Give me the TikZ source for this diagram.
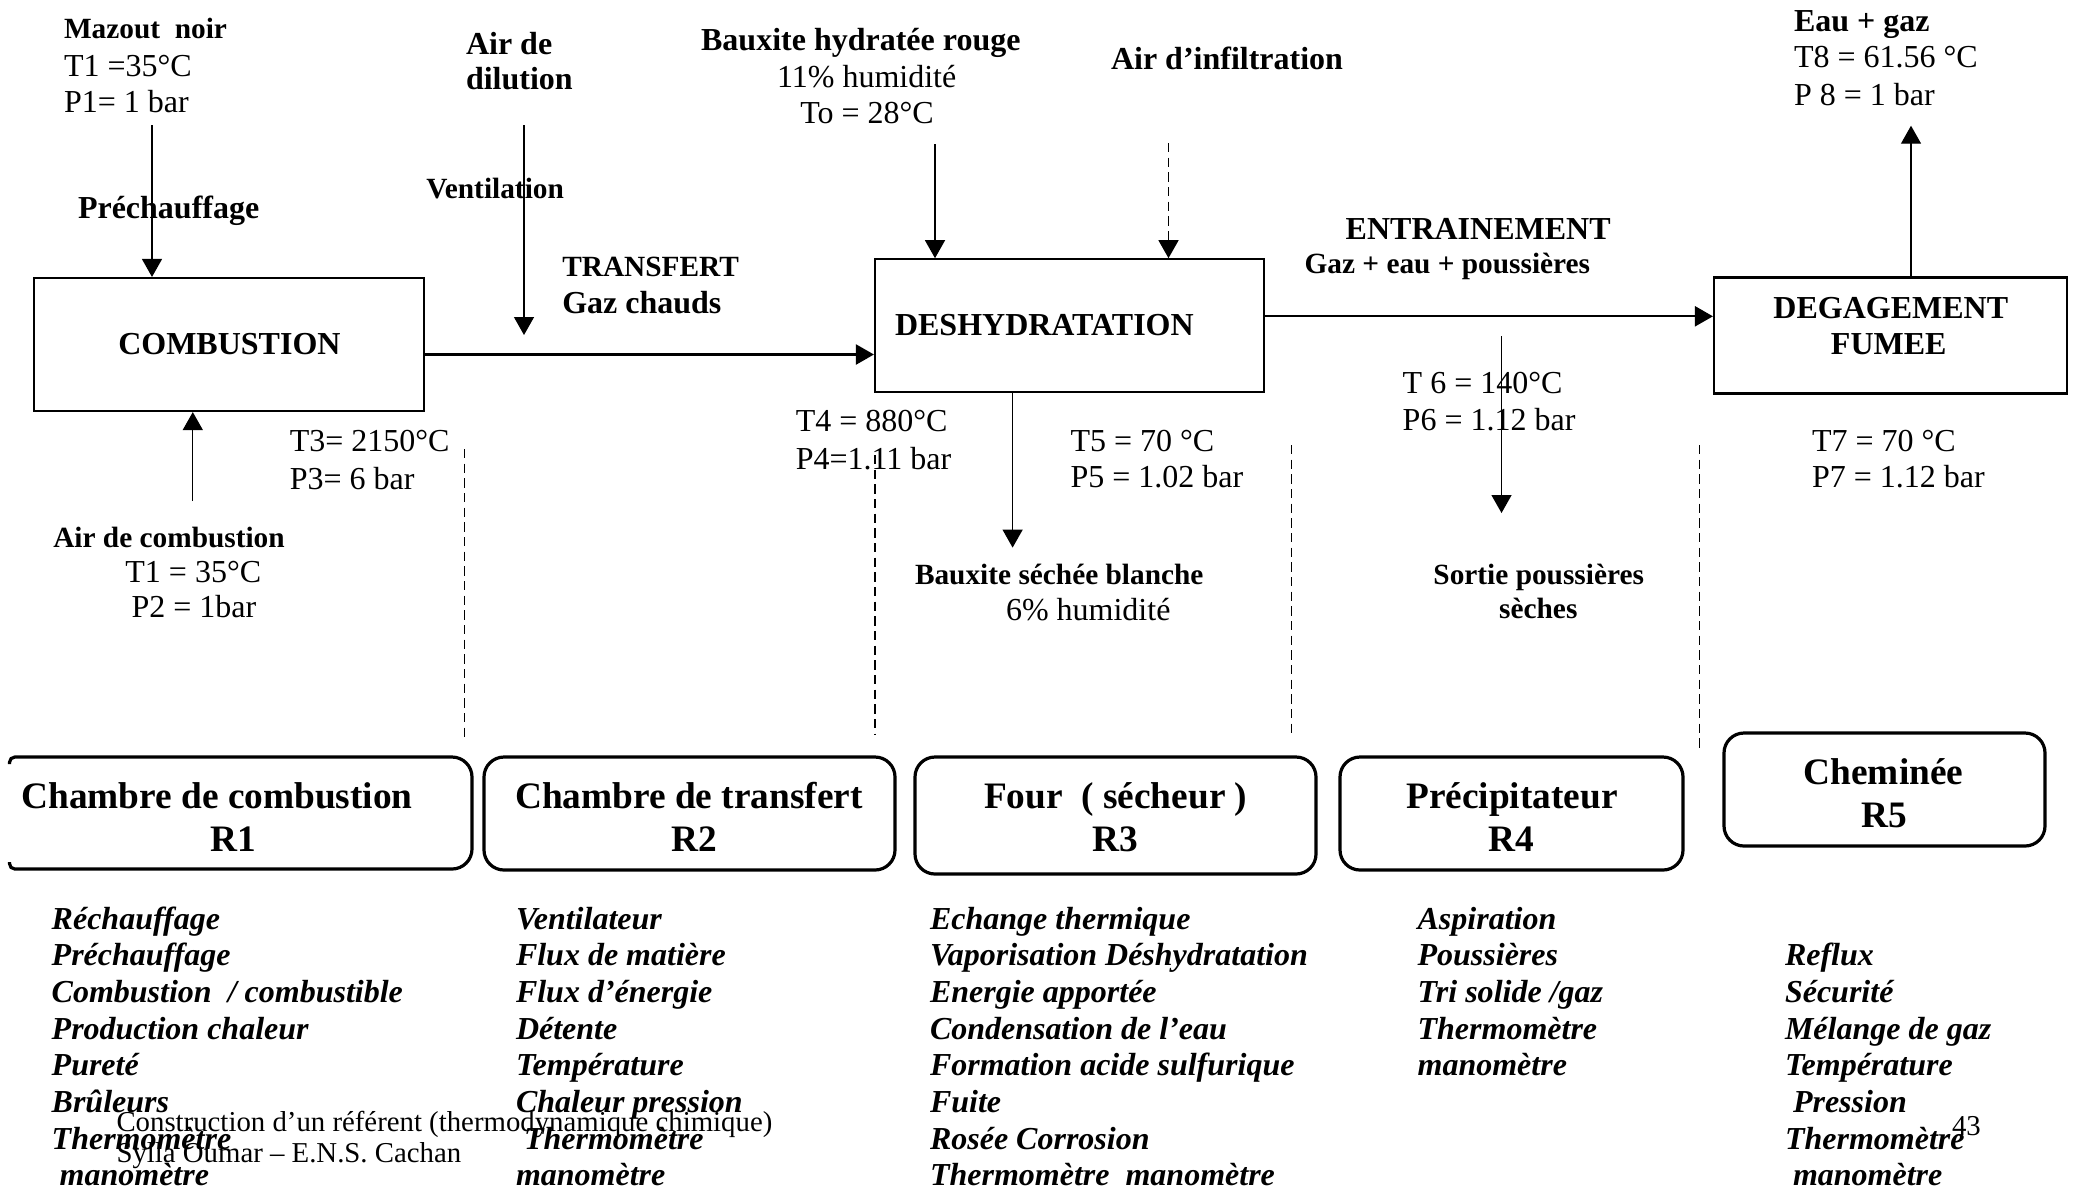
\documentclass[tikz,border=0pt]{standalone}
\usepackage{fontspec}
\setmainfont{Liberation Serif}
\usetikzlibrary{arrows.meta}
\newlength\pxu
\setlength\pxu{0.375pt}
\begin{document}
\begin{tikzpicture}[x=0.375pt,y=-0.375pt,
  txt/.style={inner sep=0pt, outer sep=0pt},
  lw/.style={txt, anchor=base west},
  cw/.style={txt, anchor=base},
  tRg/.style={font=\fontsize{12}{13.8}\selectfont},
  tBd/.style={font=\fontsize{12}{13.8}\selectfont\bfseries},
  tBs/.style={font=\fontsize{11}{12.6}\selectfont\bfseries},
  tBi/.style={font=\fontsize{12}{13.8}\selectfont\bfseries\itshape},
  tTi/.style={font=\fontsize{14}{16}\selectfont\bfseries},
  tFt/.style={font=\fontsize{10.8}{12.4}\selectfont},
  arr/.style={-{Triangle[length=6.75pt,width=7.5pt]}, line width=0.5pt},
  harr/.style={arr, line width=0.8pt},
  dsh/.style={line width=0.55pt, dash pattern=on 3.5pt off 2pt},
  blk/.style={draw, line width=0.8pt, inner sep=0pt},
  rbox/.style={draw, line width=1.2pt, rounded corners=7.5pt, inner sep=0pt},
  li/.style={lw, tBi}
]
\useasboundingbox (0,0) rectangle (2076,1191);

% ---------- process blocks ----------
\node[blk, tBd, minimum width=390\pxu, minimum height=133\pxu] (comb) at (229.4,344.5) {COMBUSTION};
\node[blk, minimum width=389\pxu, minimum height=132.5\pxu] (desh) at (1069.5,325.5) {};
\node[lw, tBd] (deshtxt) at (895,335) {DESHYDRATATION};
\node[blk, minimum width=353\pxu, minimum height=116\pxu] (deg) at (1890.5,335.5) {};
\node[cw, tBd] (deg1) at (1890.8,318.4) {DEGAGEMENT};
\node[cw, tBd] (deg2) at (1888.7,354) {FUMEE};

% ---------- combustion inputs ----------
\node[lw, tBs] (mz1) at (64,38.5) {Mazout\ \ noir};
\node[lw, tRg] (mz2) at (64,76) {T1 =35°C};
\node[lw, tRg] (mz3) at (64,112.7) {P1= 1 bar};
\node[lw, tBd] (prech) at (78,218) {Préchauffage};
\coordinate (mzs) at (152,125);
\draw[arr] (mzs) -- (mzs |- comb.north);

\node[cw, tBs] (ac1) at (169,547.3) {Air de combustion};
\node[cw, tRg] (ac2) at (193.3,582) {T1 = 35°C};
\node[cw, tRg] (ac3) at (194,617.5) {P2 = 1bar};
\coordinate (acs) at (192.8,501);
\draw[arr] (acs) -- (acs |- comb.south);

\node[lw, tRg] (t3) at (289.8,451.5) {T3= 2150°C};
\node[lw, tRg] (p3) at (289.8,489) {P3= 6 bar};

% ---------- transfer ----------
\node[lw, tBd] (dil1) at (466,54) {Air de};
\node[lw, tBd] (dil2) at (466,89.5) {dilution};
\node[lw, tBs] (vent) at (426.4,198.5) {Ventilation};
\coordinate (dils) at (524,125);
\coordinate (dile) at (524,335);
\draw[arr] (dils) -- (dile);
\node[lw, tBs] (tr1) at (562.3,276.5) {TRANSFERT};
\node[lw, tBd] (tr2) at (562.3,313) {Gaz chauds};
\coordinate (h1) at (0,354.5);
\draw[harr] (comb.east |- h1) -- (desh.west |- h1);

% ---------- dehydration ----------
\node[cw, tBd] (bx1) at (860.8,50) {Bauxite hydratée rouge};
\node[cw, tRg] (bx2) at (866.7,87.5) {11\% humidité};
\node[cw, tRg] (bx3) at (867,123.2) {To = 28°C};
\coordinate (bxs) at (935,144);
\draw[arr] (bxs) -- (bxs |- desh.north);
\node[lw, tBd] (infl) at (1111,69) {Air d’infiltration};
\coordinate (ins) at (1168.5,143);
\draw[arr, dsh] (ins) -- (ins |- desh.north);

\node[lw, tRg] (t4) at (795.8,431.5) {T4 = 880°C};
\node[lw, tRg] (p4) at (795.8,469.2) {P4=1.11 bar};
\coordinate (bse) at (1012.6,547.6);
\draw[arr] (bse |- desh.south) -- (bse);
\node[lw, tBs] (bs1) at (915,584.5) {Bauxite séchée blanche};
\node[lw, tRg] (bs2) at (1006,620.5) {6\% humidité};
\node[lw, tRg] (t5) at (1070.5,451.5) {T5 = 70 °C};
\node[lw, tRg] (p5) at (1070.5,487) {P5 = 1.02 bar};

% ---------- entrainement ----------
\coordinate (h2) at (0,316.3);
\draw[harr] (desh.east |- h2) -- (deg.west |- h2);
\node[lw, tBd] (ent1) at (1345.7,239.3) {ENTRAINEMENT};
\node[lw, tBs] (ent2) at (1304.6,273.5) {Gaz + eau + poussières};
\coordinate (ens) at (1501.5,336);
\coordinate (ene) at (1501.5,513);
\draw[arr] (ens) -- (ene);
\node[lw, tRg] (t6) at (1402.7,393.3) {T 6 = 140°C};
\node[lw, tRg] (p6) at (1402.7,430.5) {P6 = 1.12 bar};
\node[cw, tBs] (sp1) at (1538.7,584.8) {Sortie poussières};
\node[cw, tBs] (sp2) at (1538.3,618.5) {sèches};

% ---------- fumes ----------
\node[lw, tBd] (eg1) at (1794,31) {Eau + gaz};
\node[lw, tRg] (eg2) at (1794,67.8) {T8 = 61.56 °C};
\node[lw, tRg] (eg3) at (1794,105.5) {P 8 = 1 bar};
\coordinate (ege) at (1911,125.7);
\draw[arr] (ege |- deg.north) -- (ege);
\node[lw, tRg] (t7) at (1812,451.5) {T7 = 70 °C};
\node[lw, tRg] (p7) at (1812,487) {P7 = 1.12 bar};

% ---------- dashed separators ----------
\coordinate (d1a) at (464.5,449);  \coordinate (d1b) at (464.5,739);
\coordinate (d2a) at (875,455);    \coordinate (d2b) at (875,735);
\coordinate (d3a) at (1291.5,445); \coordinate (d3b) at (1291.5,735);
\coordinate (d4a) at (1699.5,445); \coordinate (d4b) at (1699.5,749);
\draw[dsh] (d1a) -- (d1b);
\draw[dsh] (d2a) -- (d2b);
\draw[dsh] (d3a) -- (d3b);
\draw[dsh] (d4a) -- (d4b);

% ---------- reactor boxes ----------
\draw[line width=1.2pt] (9.5,764) [rounded corners=2pt] -- (9.5,757) [rounded corners=7.5pt] -- (472,757) -- (472,869) [rounded corners=2pt] -- (9.5,869) [sharp corners] -- (9.5,862);
\node[rbox, minimum width=411\pxu, minimum height=113\pxu] (r2) at (689.5,813.5) {};
\node[rbox, minimum width=401\pxu, minimum height=117\pxu] (r3) at (1115.5,815.5) {};
\node[rbox, minimum width=343\pxu, minimum height=113\pxu] (r4) at (1511.5,813.5) {};
\node[rbox, minimum width=321\pxu, minimum height=113\pxu] (r5) at (1884.5,789.5) {};

\node[cw, tTi] (r1t) at (217,808.5) {Chambre de combustion};
\node[cw, tTi] (r1n) at (233,851.5) {R1};
\node[cw, tTi] (r2t) at (689,808.5) {Chambre de transfert};
\node[cw, tTi] (r2n) at (694,851.5) {R2};
\node[cw, tTi] (r3t) at (1115.7,808.5) {Four\ \ ( sécheur )};
\node[cw, tTi] (r3n) at (1115,851.5) {R3};
\node[cw, tTi] (r4t) at (1512,808.5) {Précipitateur};
\node[cw, tTi] (r4n) at (1511.6,851.5) {R4};
\node[cw, tTi] (r5t) at (1883.5,784) {Cheminée};
\node[cw, tTi] (r5n) at (1884.6,827) {R5};

% ---------- lists ----------
\foreach \t [count=\i] in {Réchauffage, Préchauffage, Combustion\ \ / combustible, Production chaleur, Pureté, Brûleurs, Thermomètre, \hspace*{3pt}manomètre}
  \node[li] (ca\i) at (51.7,{929+36.7*(\i-1)}) {\t};
\foreach \t [count=\i] in {Ventilateur, Flux de matière, Flux d’énergie, Détente, Température, Chaleur pression, \hspace*{3pt}Thermomètre, manomètre}
  \node[li] (cb\i) at (516,{929+36.7*(\i-1)}) {\t};
\foreach \t [count=\i] in {Echange thermique, Vaporisation Déshydratation, Energie apportée, Condensation de l’eau, Formation acide sulfurique, Fuite, Rosée Corrosion, Thermomètre\ \ manomètre}
  \node[li] (cc\i) at (930,{929+36.7*(\i-1)}) {\t};
\foreach \t [count=\i] in {Aspiration, Poussières, Tri solide /gaz, Thermomètre, manomètre}
  \node[li] (cd\i) at (1417.6,{929+36.7*(\i-1)}) {\t};
\foreach \t [count=\i] in {Reflux, Sécurité, Mélange de gaz, Température, \hspace*{3pt}Pression, Thermomètre, \hspace*{3pt}manomètre}
  \node[li] (ce\i) at (1785,{929+36.7*\i}) {\t};

% ---------- footer ----------
\node[lw, tFt] (ft1) at (116.5,1131) {Construction d’un référent (thermodynamique chimique)};
\node[lw, tFt] (ft2) at (116.5,1162) {Sylla Oumar – E.N.S. Cachan};
\node[lw, tFt] (pg) at (1952,1135) {43};
\end{tikzpicture}
\end{document}
